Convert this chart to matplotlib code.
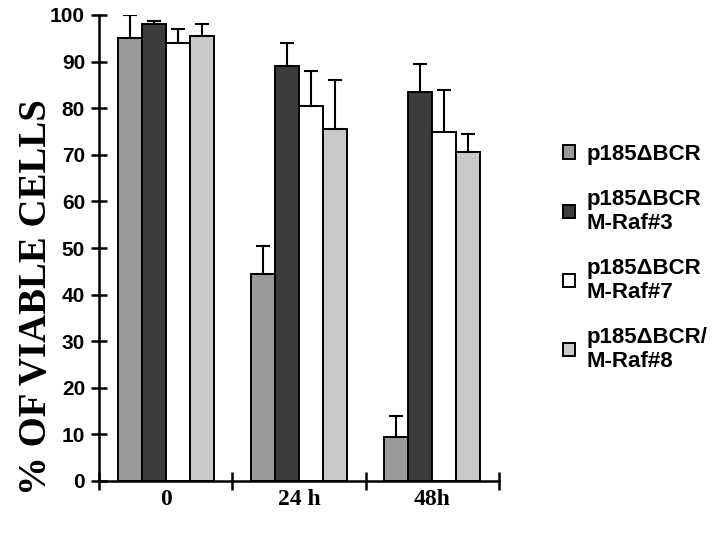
import matplotlib
matplotlib.use("Agg")
import matplotlib.pyplot as plt
import numpy as np

# data
groups = ["0", "24 h", "48h"]
series = ["p185\u0394BCR", "p185\u0394BCR\nM-Raf#3", "p185\u0394BCR\nM-Raf#7", "p185\u0394BCR/\nM-Raf#8"]
s1 = [95, 44.5, 9.5]
s2 = [98, 89, 83.5]
s3 = [94, 80.5, 75]
s4 = [95.5, 75.5, 70.5]
e1 = [5, 6, 4.5]
e2 = [0.7, 5, 6]
e3 = [3, 7.5, 9]
e4 = [2.5, 10.5, 4]

COLORS = ["#9a9a9a", "#3c3c3c", "#ffffff", "#c9c9c9"]
SERIF = ["Liberation Serif", "DejaVu Serif"]
SANS = ["Liberation Sans", "DejaVu Sans"]

fig = plt.figure(figsize=(7.2, 5.35), dpi=100)
ax = fig.add_axes([99 / 720, 1 - 481 / 535, 400 / 720, 466 / 535])

x = np.arange(len(groups))
w = 0.18
handles = []
for i, (vals, errs) in enumerate(zip([s1, s2, s3, s4], [e1, e2, e3, e4])):
    b = ax.bar(x + (i - 1.5) * w, vals, w, color=COLORS[i], edgecolor="black",
               linewidth=1.4, yerr=[np.zeros(len(errs)), errs], capsize=5,
               error_kw=dict(elinewidth=1.5, capthick=1.5, ecolor="black"),
               label=series[i], zorder=2)
    handles.append(b)

ax.set_xlim(-0.5, 2.5)
ax.set_ylim(0, 100)
for s in ("top", "right"):
    ax.spines[s].set_visible(False)
for s in ("left", "bottom"):
    ax.spines[s].set_linewidth(1.8)

ax.set_yticks(np.arange(0, 101, 10))
ax.tick_params(axis="y", direction="inout", length=12, width=1.8, pad=4)
for t in ax.get_yticklabels():
    t.set_fontfamily(SANS)
    t.set_fontweight("bold")
    t.set_fontsize(15)

# boundaries get ticks, centres get the labels
ax.set_xticks([-0.5, 0.5, 1.5, 2.5])
ax.set_xticklabels([])
ax.tick_params(axis="x", which="major", direction="inout", length=13, width=1.8)
ax.set_xticks(x, minor=True)
ax.set_xticklabels(groups, minor=True, fontfamily=SERIF, fontweight="bold", fontsize=17)
ax.tick_params(axis="x", which="minor", length=0, pad=6)

fig.text(37 / 720, 1 - 297 / 535, "% OF VIABLE CELLS", rotation=90, ha="center",
         va="center", fontfamily=SERIF, fontweight="bold", fontsize=28)

leg = fig.legend(handles=handles, loc="upper left",
                 bbox_to_anchor=(543 / 720, 1 - 124 / 535), frameon=False,
                 prop=dict(family=SANS, weight="bold", size=16),
                 handlelength=0.55, handleheight=0.55, handletextpad=0.5,
                 labelspacing=1.1)
for t in leg.get_texts():
    t.set_linespacing(1.15)

fig.savefig("out.png", dpi=100, facecolor="white")
